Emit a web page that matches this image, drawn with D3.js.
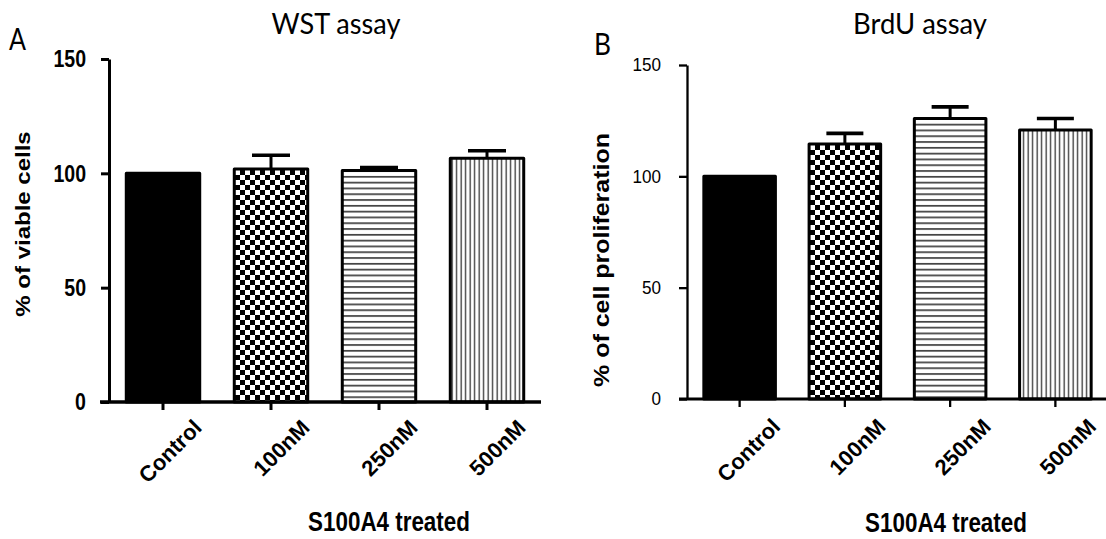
<!DOCTYPE html>
<html><head><meta charset="utf-8">
<script src="https://cdn.jsdelivr.net/npm/d3@7"></script>
<style>body{margin:0;background:#fff}</style>
</head><body>
<svg id="c" width="1106" height="539"></svg>
<script>
const categories = ["Control", "100nM", "250nM", "500nM"];
const wstMean = [100, 101.9, 101.2, 106.6];
const wstSem = [0, 6.0, 1.3, 3.3];
const brduMean = [100, 114.5, 126.0, 120.8];
const brduSem = [0, 4.8, 5.2, 5.2];
const yTickValues = [0, 50, 100, 150];
const fillKinds = ["solid", "checker", "hlines", "vlines"];

const svg = d3.select("#c");
const defs = svg.append("defs");

// patterns
const chk = defs.append("pattern").attr("id", "checker").attr("patternUnits", "userSpaceOnUse")
  .attr("width", 10).attr("height", 10);
chk.append("rect").attr("width", 10).attr("height", 10).attr("fill", "#fff");
chk.append("rect").attr("width", 5).attr("height", 5).attr("fill", "#000");
chk.append("rect").attr("x", 5).attr("y", 5).attr("width", 5).attr("height", 5).attr("fill", "#000");

const hl = defs.append("pattern").attr("id", "hlines").attr("patternUnits", "userSpaceOnUse")
  .attr("width", 10).attr("height", 5.8);
hl.append("rect").attr("width", 10).attr("height", 5.8).attr("fill", "#fff");
hl.append("rect").attr("y", 2).attr("width", 10).attr("height", 1.6).attr("fill", "#333");

const vl = defs.append("pattern").attr("id", "vlines").attr("patternUnits", "userSpaceOnUse")
  .attr("width", 4.5).attr("height", 10);
vl.append("rect").attr("width", 4.5).attr("height", 10).attr("fill", "#fff");
vl.append("rect").attr("x", 1.5).attr("width", 1.3).attr("height", 10).attr("fill", "#333");

function fillFor(kind) { return kind === "solid" ? "#000" : `url(#${kind})`; }

const panels = [
  {
    letter: "A", letterX: 9, letterY: 50, title: "WST assay", titleX: 336, titleY: 34, titleW: 129,
    yTitle: "% of viable cells", yTitleX: 23, yTitleY: 224, yTitleSize: 24,
    means: wstMean, sems: wstSem,
    xLeft: 109, xRight: 541, lineLeft: 100, yTop: 59, yZero: 402, axisW: 3,
    tickFont: 23, tickWeight: "bold", tickScale: 0.85, tickLabelX: 86,
    xLabelDx: 40, xLabelY: 429, xTitleX: 389, xTitleY: 531, capW: 38
  },
  {
    letter: "B", letterX: 594, letterY: 55, title: "BrdU assay", titleX: 920, titleY: 34, titleW: 134,
    yTitle: "% of cell proliferation", yTitleX: 602, yTitleY: 260, yTitleSize: 25,
    means: brduMean, sems: brduSem,
    xLeft: 687, xRight: 1108, lineLeft: 679, yTop: 65, yZero: 399, axisW: 2.3,
    tickFont: 18, tickWeight: "normal", tickScale: 0.95, tickLabelX: 661,
    xLabelDx: 42, xLabelY: 428, xTitleX: 946, xTitleY: 532, capW: 37
  }
];

panels.forEach(p => {
  const g = svg.append("g");
  const y = d3.scaleLinear().domain([0, 150]).range([p.yZero, p.yTop]);
  const x = d3.scaleBand().domain(categories).range([p.xLeft, p.xRight])
    .paddingInner(0.32).paddingOuter(0.16);

  // bars
  g.selectAll("rect.bar").data(categories).join("rect")
    .attr("class", "bar")
    .attr("x", d => x(d))
    .attr("width", x.bandwidth())
    .attr("y", (d, i) => y(p.means[i]))
    .attr("height", (d, i) => y(0) - y(p.means[i]))
    .attr("fill", (d, i) => fillFor(fillKinds[i]))
    .attr("stroke", "#000").attr("stroke-width", 3).attr("stroke-linejoin", "round");

  // error bars
  const eb = categories.map((c, i) => ({ c, m: p.means[i], s: p.sems[i] })).filter(d => d.s > 0);
  g.selectAll("line.ev").data(eb).join("line")
    .attr("x1", d => x(d.c) + x.bandwidth() / 2).attr("x2", d => x(d.c) + x.bandwidth() / 2)
    .attr("y1", d => y(d.m)).attr("y2", d => y(d.m + d.s))
    .attr("stroke", "#000").attr("stroke-width", 3);
  g.selectAll("line.ec").data(eb).join("line")
    .attr("x1", d => x(d.c) + x.bandwidth() / 2 - p.capW / 2)
    .attr("x2", d => x(d.c) + x.bandwidth() / 2 + p.capW / 2)
    .attr("y1", d => y(d.m + d.s)).attr("y2", d => y(d.m + d.s))
    .attr("stroke", "#000").attr("stroke-width", 3.6);

  // y axis
  const ya = g.append("g").attr("transform", `translate(${p.xLeft},0)`)
    .call(d3.axisLeft(y).tickValues(yTickValues).tickSize(8).tickSizeOuter(0).tickFormat(d3.format("d")));
  ya.select(".domain").attr("stroke", "#000").attr("stroke-width", p.axisW);
  ya.selectAll(".tick line").attr("stroke", "#000").attr("stroke-width", p.axisW);
  ya.selectAll(".tick text").remove();
  g.selectAll("text.yt").data(yTickValues).join("text")
    .attr("text-anchor", "end")
    .attr("transform", d => `translate(${p.tickLabelX},${y(d)}) scale(${p.tickScale},1)`)
    .attr("dy", "0.36em")
    .attr("font-family", "Liberation Sans, Arial, sans-serif")
    .attr("font-size", p.tickFont).attr("font-weight", p.tickWeight)
    .text(d => d);

  // x axis
  g.append("line").attr("x1", p.lineLeft).attr("x2", p.xRight).attr("y1", y(0)).attr("y2", y(0))
    .attr("stroke", "#000").attr("stroke-width", p.axisW + 0.5);
  const xa = g.append("g").attr("transform", `translate(0,${y(0)})`)
    .call(d3.axisBottom(x).tickSize(8).tickSizeOuter(0));
  xa.select(".domain").remove();
  xa.selectAll(".tick line").attr("stroke", "#000").attr("stroke-width", p.axisW);
  xa.selectAll(".tick text").remove();
  g.selectAll("text.xt").data(categories).join("text")
    .attr("text-anchor", "end")
    .attr("transform", d => `translate(${x(d) + x.bandwidth() / 2 + p.xLabelDx},${p.xLabelY}) rotate(-45)`)
    .attr("font-family", "Liberation Sans, Arial, sans-serif")
    .attr("font-size", 22).attr("font-weight", "bold")
    .text(d => d);

  // axis titles
  g.append("text")
    .attr("text-anchor", "middle")
    .attr("transform", `translate(${p.xTitleX},${p.xTitleY}) scale(0.8,1)`)
    .attr("font-family", "Liberation Sans, Arial, sans-serif")
    .attr("font-size", 28).attr("font-weight", "bold")
    .text("S100A4 treated");
  g.append("text")
    .attr("text-anchor", "middle")
    .attr("transform", `translate(${p.yTitleX},${p.yTitleY}) scale(0.85,1) rotate(-90)`)
    .attr("dy", "0.35em")
    .attr("font-family", "Liberation Sans, Arial, sans-serif")
    .attr("font-size", p.yTitleSize).attr("font-weight", "bold")
    .text(p.yTitle);

  // title + panel letter
  g.append("text")
    .attr("x", p.titleX).attr("y", p.titleY)
    .attr("text-anchor", "middle")
    .attr("font-family", "Lato, Open Sans, sans-serif")
    .attr("font-size", 28)
    .attr("textLength", p.titleW).attr("lengthAdjust", "spacingAndGlyphs")
    .text(p.title);
  g.append("text")
    .attr("x", p.letterX).attr("y", p.letterY)
    .attr("font-family", "Lato, Open Sans, sans-serif")
    .attr("font-size", 31)
    .attr("textLength", 17).attr("lengthAdjust", "spacingAndGlyphs")
    .text(p.letter);
});
</script>
</body></html>
